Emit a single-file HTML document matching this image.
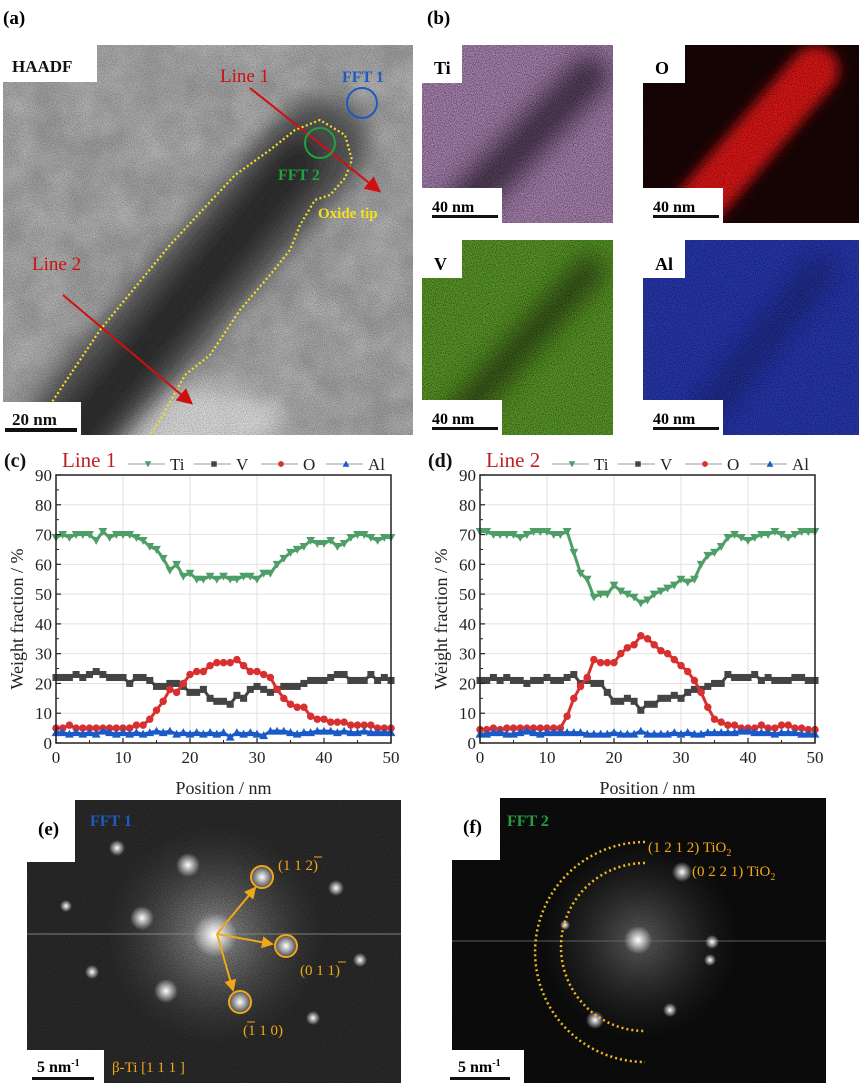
<!DOCTYPE html>
<html><head><meta charset="utf-8">
<style>
html,body{margin:0;padding:0;background:#fff;}
svg{display:block;font-family:"Liberation Serif",serif;}
</style></head>
<body>
<svg id="fig" width="865" height="1089" viewBox="0 0 865 1089" xmlns="http://www.w3.org/2000/svg">
<defs>
  <filter id="grain" filterUnits="userSpaceOnUse" x="0" y="0" width="865" height="1089">
    <feTurbulence type="fractalNoise" baseFrequency="1.1" numOctaves="1" seed="3"/>
    <feColorMatrix values="0 0 0 0 0  0 0 0 0 0  0 0 0 0 0  0 0 0 3 -1.2"/>
    <feComposite in2="SourceGraphic" operator="in"/>
  </filter>
  <filter id="blur6" filterUnits="userSpaceOnUse" x="0" y="0" width="865" height="1089"><feGaussianBlur stdDeviation="6"/></filter>
  <filter id="blur12" filterUnits="userSpaceOnUse" x="0" y="0" width="865" height="1089"><feGaussianBlur stdDeviation="12"/></filter>
  <filter id="cloud" filterUnits="userSpaceOnUse" x="0" y="0" width="865" height="1089">
    <feTurbulence type="fractalNoise" baseFrequency="0.03" numOctaves="3" seed="7"/>
    <feColorMatrix values="0 0 0 0 1  0 0 0 0 1  0 0 0 0 1  0 0 0 0.6 -0.15"/>
    <feComposite in2="SourceGraphic" operator="in"/>
  </filter>
  <radialGradient id="spot"><stop offset="0" stop-color="#fff" stop-opacity="1"/><stop offset="1" stop-color="#fff" stop-opacity="0"/></radialGradient>
  <radialGradient id="halo"><stop offset="0" stop-color="#bbb" stop-opacity="0.8"/><stop offset="1" stop-color="#555" stop-opacity="0"/></radialGradient>
  <marker id="arrR" markerWidth="8" markerHeight="8" refX="6" refY="4" orient="auto" markerUnits="strokeWidth"><path d="M0,0 L8,4 L0,8 z" fill="#d01010"/></marker>
  <marker id="arrY" markerWidth="6" markerHeight="6" refX="5" refY="3" orient="auto" markerUnits="strokeWidth"><path d="M0,0 L6,3 L0,6 z" fill="#f0a818"/></marker>
  <clipPath id="clipA"><rect x="3" y="45" width="410" height="390"/></clipPath>
  <clipPath id="clipTi"><rect x="422" y="45" width="191" height="178"/></clipPath>
  <clipPath id="clipO"><rect x="643" y="45" width="216" height="178"/></clipPath>
  <clipPath id="clipV"><rect x="422" y="240" width="191" height="195"/></clipPath>
  <clipPath id="clipAl"><rect x="643" y="240" width="216" height="195"/></clipPath>
</defs>

<!-- Panel (a) HAADF -->
<g clip-path="url(#clipA)">
  <rect x="3" y="45" width="410" height="390" fill="#9c9c9c"/>
  <rect x="3" y="45" width="410" height="390" fill="#fff" filter="url(#cloud)" opacity="0.7"/>
  <ellipse cx="150" cy="420" rx="140" ry="35" fill="#eee" filter="url(#blur12)" opacity="0.7"/>
  <line x1="50" y1="450" x2="320" y2="145" stroke="#555" stroke-width="95" stroke-linecap="round" filter="url(#blur12)"/>
  <line x1="70" y1="440" x2="300" y2="160" stroke="#2a2a2a" stroke-width="45" stroke-linecap="round" filter="url(#blur12)"/>
  <rect x="3" y="45" width="410" height="390" fill="#000" filter="url(#grain)" opacity="0.25"/>
  <path d="M30,435 L100,330 L170,245 L235,175 L270,150 L295,130 L320,120 L345,135 L352,160 L345,178 L330,195 L315,200 L300,225 L290,250 L270,275 L240,310 L210,355 L185,375 L160,420 L150,435" fill="none" stroke="#f2e020" stroke-width="2.2" stroke-dasharray="2,2.5"/>
  <line x1="250" y1="88" x2="378" y2="190" stroke="#d01010" stroke-width="2" marker-end="url(#arrR)"/>
  <line x1="63" y1="295" x2="190" y2="402" stroke="#d01010" stroke-width="2" marker-end="url(#arrR)"/>
  <ellipse cx="362" cy="103" rx="15" ry="15" fill="none" stroke="#1e5ac0" stroke-width="2"/>
  <ellipse cx="320" cy="143" rx="15" ry="15" fill="none" stroke="#20a040" stroke-width="2"/>
  <text x="220" y="82" font-size="19" fill="#d01010">Line 1</text>
  <text x="32" y="270" font-size="19" fill="#d01010">Line 2</text>
  <text x="342" y="82" font-size="16" font-weight="bold" fill="#1e5ac0">FFT 1</text>
  <text x="278" y="180" font-size="16" font-weight="bold" fill="#20a040">FFT 2</text>
  <text x="318" y="218" font-size="15" font-weight="bold" fill="#f2e020">Oxide tip</text>
  <rect x="3" y="45" width="94" height="37" fill="#fff"/>
  <text x="12" y="72" font-size="17" font-weight="bold" fill="#111">HAADF</text>
  <rect x="3" y="402" width="78" height="33" fill="#fff"/>
  <text x="12" y="425" font-size="17" font-weight="bold" fill="#111">20 nm</text>
  <rect x="5" y="428" width="72" height="4" fill="#111"/>
</g>
<text x="3" y="24" font-size="19" font-weight="bold">(a)</text>
<text x="427" y="24" font-size="19" font-weight="bold">(b)</text>

<!-- EDS maps -->
<g>
  <g clip-path="url(#clipTi)">
  <rect x="422" y="45" width="191" height="178" fill="#a882b0"/>
  <line x1="455" y1="215" x2="590" y2="75" stroke="#3a2a40" stroke-width="40" stroke-linecap="round" filter="url(#blur12)" opacity="0.85"/>
  <rect x="422" y="45" width="191" height="178" fill="#000" filter="url(#grain)" opacity="0.5"/>
  </g>
  <rect x="422" y="45" width="40" height="38" fill="#fff"/>
  <text x="434" y="74" font-size="18" font-weight="bold">Ti</text>
  <rect x="422" y="188" width="80" height="35" fill="#fff"/>
  <text x="432" y="212" font-size="16" font-weight="bold">40 nm</text>
  <rect x="432" y="215" width="66" height="3" fill="#111"/>
</g>
<g>
  <g clip-path="url(#clipO)">
  <rect x="643" y="45" width="216" height="178" fill="#1a0505"/>
  <line x1="690" y1="215" x2="815" y2="70" stroke="#e01818" stroke-width="48" stroke-linecap="round" filter="url(#blur6)"/>
  <rect x="643" y="45" width="216" height="178" fill="#000" filter="url(#grain)" opacity="0.5"/>
  </g>
  <rect x="643" y="45" width="42" height="38" fill="#fff"/>
  <text x="655" y="74" font-size="18" font-weight="bold">O</text>
  <rect x="643" y="188" width="80" height="35" fill="#fff"/>
  <text x="653" y="212" font-size="16" font-weight="bold">40 nm</text>
  <rect x="653" y="215" width="66" height="3" fill="#111"/>
</g>
<g>
  <g clip-path="url(#clipV)">
  <rect x="422" y="240" width="191" height="195" fill="#5a9828"/>
  <line x1="455" y1="420" x2="590" y2="270" stroke="#203010" stroke-width="30" stroke-linecap="round" filter="url(#blur12)" opacity="0.7"/>
  <rect x="422" y="240" width="191" height="195" fill="#000" filter="url(#grain)" opacity="0.5"/>
  </g>
  <rect x="422" y="240" width="40" height="38" fill="#fff"/>
  <text x="434" y="270" font-size="18" font-weight="bold">V</text>
  <rect x="422" y="400" width="80" height="35" fill="#fff"/>
  <text x="432" y="424" font-size="16" font-weight="bold">40 nm</text>
  <rect x="432" y="427" width="66" height="3" fill="#111"/>
</g>
<g>
  <g clip-path="url(#clipAl)">
  <rect x="643" y="240" width="216" height="195" fill="#2838b0"/>
  <line x1="700" y1="420" x2="820" y2="270" stroke="#101850" stroke-width="30" stroke-linecap="round" filter="url(#blur12)" opacity="0.4"/>
  <rect x="643" y="240" width="216" height="195" fill="#000" filter="url(#grain)" opacity="0.5"/>
  </g>
  <rect x="643" y="240" width="42" height="38" fill="#fff"/>
  <text x="655" y="270" font-size="18" font-weight="bold">Al</text>
  <rect x="643" y="400" width="80" height="35" fill="#fff"/>
  <text x="653" y="424" font-size="16" font-weight="bold">40 nm</text>
  <rect x="653" y="427" width="66" height="3" fill="#111"/>
</g>

<!-- charts drawn by script -->
<g id="chartC"></g>
<g id="chartD"></g>

<!-- Panel (e) FFT1 -->
<g>
  <rect x="27" y="800" width="374" height="283" fill="#2a2a2a"/>
  <circle cx="215" cy="935" r="110" fill="url(#halo)"/>
  <rect x="27" y="800" width="374" height="283" fill="#fff" filter="url(#grain)" opacity="0.35"/>
  <line x1="27" y1="934" x2="401" y2="934" stroke="#888" stroke-width="1.5" opacity="0.6"/>
  <g fill="url(#spot)">
    <circle cx="215" cy="935" r="22"/><circle cx="188" cy="865" r="12"/><circle cx="142" cy="918" r="12"/>
    <circle cx="262" cy="877" r="12"/><circle cx="286" cy="946" r="12"/><circle cx="240" cy="1002" r="12"/>
    <circle cx="166" cy="991" r="12"/><circle cx="117" cy="848" r="8"/><circle cx="336" cy="888" r="8"/>
    <circle cx="92" cy="972" r="7"/><circle cx="360" cy="960" r="7"/><circle cx="313" cy="1018" r="7"/><circle cx="66" cy="906" r="6"/>
  </g>
  <g stroke="#f0a818" stroke-width="2" fill="none">
    <circle cx="262" cy="877" r="11"/><circle cx="286" cy="946" r="11"/><circle cx="240" cy="1002" r="11"/>
    <line x1="217" y1="934" x2="255" y2="888" marker-end="url(#arrY)"/>
    <line x1="217" y1="934" x2="272" y2="944" marker-end="url(#arrY)"/>
    <line x1="217" y1="934" x2="233" y2="990" marker-end="url(#arrY)"/>
  </g>
  <g fill="#f0a818" font-size="15">
    <text x="278" y="870">(1 1 2)</text><line x1="314" y1="857" x2="322" y2="857" stroke="#f0a818"/>
    <text x="300" y="975">(0 1 1)</text><line x1="338" y1="962" x2="346" y2="962" stroke="#f0a818"/>
    <text x="243" y="1035">(1 1 0)</text><line x1="247" y1="1022" x2="255" y2="1022" stroke="#f0a818"/>
    <text x="112" y="1072">β-Ti [1 1 1 ]</text>
  </g>
  <rect x="27" y="800" width="48" height="62" fill="#fff"/>
  <text x="38" y="835" font-size="19" font-weight="bold">(e)</text>
  <text x="90" y="826" font-size="16" font-weight="bold" fill="#1e5ac0">FFT 1</text>
  <rect x="27" y="1050" width="77" height="33" fill="#fff"/>
  <text x="37" y="1072" font-size="16" font-weight="bold">5 nm<tspan font-size="10" dy="-6">-1</tspan></text>
  <rect x="32" y="1077" width="62" height="3" fill="#111"/>
</g>

<!-- Panel (f) FFT2 -->
<g>
  <rect x="452" y="798" width="374" height="285" fill="#0c0c0c"/>
  <circle cx="640" cy="940" r="100" fill="url(#halo)" opacity="0.6"/>
  <rect x="452" y="798" width="374" height="285" fill="#fff" filter="url(#grain)" opacity="0.25"/>
  <line x1="452" y1="941" x2="826" y2="941" stroke="#666" stroke-width="1.5" opacity="0.6"/>
  <g fill="url(#spot)">
    <circle cx="638" cy="940" r="14"/><circle cx="682" cy="872" r="10"/><circle cx="712" cy="942" r="7"/>
    <circle cx="710" cy="960" r="6"/><circle cx="595" cy="1020" r="9"/><circle cx="670" cy="1010" r="7"/><circle cx="565" cy="925" r="5"/>
  </g>
  <path d="M 645 842 A 110 110 0 0 0 645 1062" fill="none" stroke="#f0b820" stroke-width="2.5" stroke-dasharray="2,3"/>
  <path d="M 645 863 A 84 84 0 0 0 645 1031" fill="none" stroke="#f0b820" stroke-width="2.5" stroke-dasharray="2,3"/>
  <g fill="#f0a818" font-size="15">
    <text x="648" y="852">(1 2 1 2) TiO<tspan font-size="10" dy="4">2</tspan></text>
    <text x="692" y="876">(0 2 2 1) TiO<tspan font-size="10" dy="4">2</tspan></text>
  </g>
  <rect x="452" y="798" width="48" height="62" fill="#fff"/>
  <text x="463" y="833" font-size="19" font-weight="bold">(f)</text>
  <text x="507" y="826" font-size="16" font-weight="bold" fill="#20a040">FFT 2</text>
  <rect x="452" y="1050" width="72" height="35" fill="#fff"/>
  <text x="458" y="1072" font-size="16" font-weight="bold">5 nm<tspan font-size="10" dy="-6">-1</tspan></text>
  <rect x="450" y="1077" width="60" height="3" fill="#111"/>
</g>
</svg>

<script>
// ---- chart data (position 0..50 nm, 1 nm step) ----
const positions = Array.from({length:51},(_,i)=>i);
const yTicks = [0,10,20,30,40,50,60,70,80,90];
const xTicks = [0,10,20,30,40,50];
const ti1 = [69,70,69,70,70,70,68,71,69,70,70,70,69,68,66,65,62,58,60,56,57,55,55,56,55,56,55,55,56,56,55,57,57,60,62,64,65,66,68,67,67,68,66,67,69,70,70,69,68,69,69];
const v1  = [22,22,22,23,22,23,24,23,22,22,22,20,22,22,21,19,19,20,20,19,17,17,18,15,14,14,13,16,15,18,19,18,17,18,19,19,19,20,21,21,21,22,23,23,21,21,21,23,21,22,21];
const o1  = [5,5,6,5,5,5,5,5,5,5,5,5,6,6,8,11,14,18,17,20,23,24,24,26,27,27,27,28,26,24,24,23,22,18,15,13,12,12,9,8,8,7,7,7,6,6,6,6,5,5,5];
const al1 = [3.5,3.5,3,3.5,3,3.5,3,4,3.5,3,3.5,3,3.5,3,3.5,4,3.5,4,3,3.5,3,3.5,3,3.5,3,3.5,2,3.5,3,3.5,3,2.5,4,4,4,3.5,3,3.5,3.5,4,4,4,3.5,4,3.5,3.5,4,3.5,3.5,3.5,3.5];
const ti2 = [71,71,70,70,70,70,69,70,71,71,71,70,70,71,64,57,55,49,50,50,53,51,50,49,47,48,50,51,52,53,55,54,55,60,63,64,66,69,70,69,68,69,70,70,71,70,69,70,71,71,71];
const v2  = [21,21,22,21,22,21,21,20,21,21,22,21,21,22,23,20,21,20,20,17,14,14,15,14,11,13,13,15,15,16,15,17,18,18,19,20,20,23,22,22,22,23,21,22,21,21,21,22,22,21,21];
const o2  = [4.5,4.5,5,4.5,5,5,5,5,5,5,5,5,5,9,15,19,22,28,27,27,27,30,32,33,36,35,33,31,30,28,26,24,21,17,12,8,7,6,6,5,5,5,6,5,5,6,6,5,5,4.5,4.5];
const al2 = [3,3,3.5,3.5,3,3,3.5,4,3.5,3,3.5,3.5,3.5,3.5,3.5,3.5,3,3,3,3,3.5,3,3,3,4,3,3,3,3,3.5,3,3.5,3,3,3.5,3.5,3.5,3.5,3.5,4,4,3.5,3.5,3.5,3,3.5,3.5,3.5,3,3,3];

const NS = "http://www.w3.org/2000/svg";
function mk(tag, attrs, parent){const e=document.createElementNS(NS,tag);for(const k in attrs)e.setAttribute(k,attrs[k]);parent.appendChild(e);return e;}
const colors = {ti:"#4e9e68", v:"#444444", o:"#d83030", al:"#1a5ac8"};

function marker(g, kind, cx, cy, s){
  let el;
  if(kind==="ti") el = mk("path",{d:`M${cx-s},${cy-s*0.8} L${cx+s},${cy-s*0.8} L${cx},${cy+s} Z`,fill:colors.ti},g);
  else if(kind==="v") el = mk("rect",{x:cx-s*0.8,y:cy-s*0.8,width:s*1.6,height:s*1.6,fill:colors.v},g);
  else if(kind==="o") el = mk("circle",{cx:cx,cy:cy,r:s*0.85,fill:colors.o},g);
  else el = mk("path",{d:`M${cx-s},${cy+s*0.8} L${cx+s},${cy+s*0.8} L${cx},${cy-s} Z`,fill:colors.al},g);
  return el;
}

function drawChart(id, left, label, lineLabel, series){
  const g = document.getElementById(id);
  const right = left+335, top = 475, bottom = 743;
  const xs = v => left + (v-0)/(50-0)*(right-left);
  const ys = v => bottom - (v-0)/(90-0)*(bottom-top);
  for(const t of xTicks){ const l=mk("line",{x1:xs(t),x2:xs(t),y1:top,y2:bottom,stroke:"#e2e2e2","stroke-width":1},g);
      }
  for(const t of yTicks){ const l=mk("line",{x1:left,x2:right,y1:ys(t),y2:ys(t),stroke:"#e2e2e2","stroke-width":1},g);
      }
  for(const s of series){
    const sg = mk("g",{},g);
    
    
    const pts = positions.map((p,i)=>xs(p)+","+ys(s.vals[i])).join(" ");
    mk("polyline",{points:pts,fill:"none",stroke:colors[s.kind],"stroke-width":3,"stroke-linejoin":"round"},sg);
    positions.forEach((p,i)=>{
      const m = marker(sg, s.kind, xs(p), ys(s.vals[i]), 4.4);
      
      
    });
  }
  const fr = mk("rect",{x:left,y:top,width:right-left,height:bottom-top,fill:"none",stroke:"#222","stroke-width":1.5},g);
   
  for(const t of xTicks){
    mk("line",{x1:xs(t),x2:xs(t),y1:bottom,y2:bottom-5,stroke:"#222","stroke-width":1.2},g);
    if(t<50) mk("line",{x1:xs(t+5),x2:xs(t+5),y1:bottom,y2:bottom-3,stroke:"#222","stroke-width":1},g);
    const tx = mk("text",{x:xs(t),y:bottom+20,"font-size":17,"text-anchor":"middle",fill:"#222"},g);
    tx.textContent = t;
     
  }
  for(const t of yTicks){
    mk("line",{x1:left,x2:left+5,y1:ys(t),y2:ys(t),stroke:"#222","stroke-width":1.2},g);
    if(t<90) mk("line",{x1:left,x2:left+3,y1:ys(t+5),y2:ys(t+5),stroke:"#222","stroke-width":1},g);
    const tx = mk("text",{x:left-4,y:ys(t)+6,"font-size":17,"text-anchor":"end",fill:"#222"},g);
    tx.textContent = t;
     
  }
  const xt = mk("text",{x:(left+right)/2,y:794,"font-size":18,"text-anchor":"middle",fill:"#222"},g);
  xt.textContent = "Position / nm";
   
  const yt = mk("text",{x:0,y:0,"font-size":18,"text-anchor":"middle",fill:"#222",transform:`translate(${left-33},${(top+bottom)/2+10}) rotate(-90)`},g);
  yt.textContent = "Weight fraction / %";
   
  const pl = mk("text",{x:left-52,y:467,"font-size":20,"font-weight":"bold",fill:"#111"},g);
  pl.textContent = label;
   
  const ll = mk("text",{x:left+6,y:467,"font-size":21,fill:"#c02020"},g);
  ll.textContent = lineLabel;
   
  const leg = [["ti","Ti",left+92],["v","V",left+158],["o","O",left+225],["al","Al",left+290]];
  for(const [k,txt,x0] of leg){
    const lg = mk("g",{},g);
    
    
    mk("line",{x1:x0-20,x2:x0+17,y1:464,y2:464,stroke:"#999","stroke-width":1},lg);
    marker(lg,k,x0,464,3.4);
    const t = mk("text",{x:x0+22,y:470,"font-size":17,fill:"#222"},lg);
    t.textContent = txt;
  }
}
drawChart("chartC",56,"(c)","Line 1",[{name:"ti",kind:"ti",vals:ti1},{name:"v",kind:"v",vals:v1},{name:"o",kind:"o",vals:o1},{name:"al",kind:"al",vals:al1}]);
drawChart("chartD",480,"(d)","Line 2",[{name:"ti",kind:"ti",vals:ti2},{name:"v",kind:"v",vals:v2},{name:"o",kind:"o",vals:o2},{name:"al",kind:"al",vals:al2}]);
</script>
</body></html>
